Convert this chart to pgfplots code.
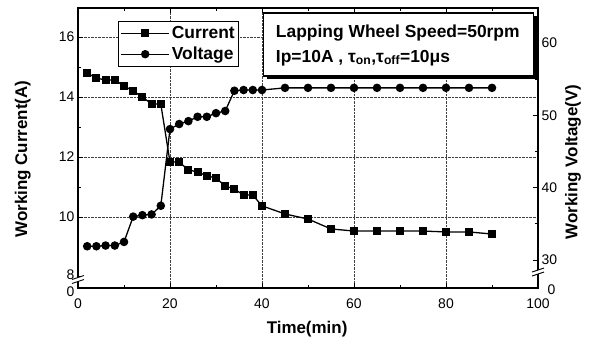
\documentclass[border=0pt]{standalone}
\usepackage{fontspec}
\setmainfont{Liberation Sans}
\usepackage{pgfplots}
\pgfplotsset{compat=1.18}
\begin{document}
\begin{tikzpicture}
\pgfplotsset{
  common/.style={
    scale only axis, width=460bp, height=280bp, xmin=0, xmax=100,
    /pgf/number format/assume math mode=true,
    tick label style={font=\fontsize{14}{16}\selectfont},
    label style={font=\fontsize{17}{19}\selectfont\bfseries},
    major tick length=5bp, minor tick length=3bp,
    tick style={black, line width=0.9bp},
    every axis plot/.append style={line width=1.3bp},
  },
  curstyle/.style={black, line width=1.3bp, mark=square*, mark size=3.4bp, mark options={solid}},
  volstyle/.style={black, line width=1.3bp, mark=*, mark size=3.6bp, mark options={solid}},
}
\begin{axis}[common,
  ymin=7.63, ymax=16.97,
  axis line style={line width=1.3bp},
  xtick={0,20,...,100}, minor x tick num=1,
  xticklabel style={yshift=-7bp},
  ytick={10,12,14,16}, minor y tick num=1,
  extra y ticks={7.63,8}, extra y tick labels={\raisebox{-4bp}[\height][\depth]{0},\raisebox{2bp}[\height][\depth]{8}},
  extra y tick style={grid=none},
  ytick pos=left,
  grid=major, grid style={densely dotted, line width=0.6bp, black!75},
  xlabel={Time(min)}, ylabel={Working Current(A)},
  xlabel style={at={(axis description cs:0.498,-0.146)}, anchor=center},
  ylabel style={at={(axis description cs:-0.12,0.46)}, anchor=center},
]
\coordinate (sw) at (rel axis cs:0,0);
\addplot[curstyle] coordinates {
(2,14.8)(4,14.63)(6,14.57)(8,14.57)(10,14.37)(12,14.2)(14,14.0)(16,13.77)(18,13.77)
(20,11.83)(22,11.83)(24,11.57)(26,11.5)(28,11.37)(30,11.3)(32,11.03)(34,10.93)(36,10.73)(38,10.73)
(40,10.37)(45,10.1)(50,9.93)(55,9.6)(60,9.53)(65,9.53)(70,9.53)(75,9.53)(80,9.5)(85,9.5)(90,9.43)};
\coordinate (lb) at (axis cs:0,7.88);
\end{axis}
\begin{axis}[common,
  ymin=26.13, ymax=64.84,
  axis y line*=right, axis x line=none,
  axis line style={line width=1.3bp},
  ytick={30,40,50,60}, minor y tick num=1,
  extra y ticks={26.13}, extra y tick labels={\hspace*{6bp}\raisebox{-2bp}[\height][\depth]{0}},
  ylabel={Working Voltage(V)},
  ylabel style={at={(axis description cs:1.076,0.45)}, anchor=center},
  legend style={at={(rel axis cs:0.087,0.954)}, anchor=north west, draw=black,
    line width=1.2bp, font=\fontsize{17.5}{19}\selectfont\bfseries,
    inner xsep=2bp, inner ysep=3bp, row sep=3bp, /tikz/every even column/.append style={column sep=2bp}},
  legend cell align=left,
  legend image code/.code={
    \draw[#1, mark repeat=2, mark phase=2, line width=1.2bp] plot coordinates {(0bp,0bp)(24bp,0bp)(48bp,0bp)};},
]
\addlegendimage{curstyle}
\addlegendentry{Current}
\addplot[volstyle] coordinates {
(2,31.9)(4,31.9)(6,32.0)(8,32.0)(10,32.5)(12,36.0)(14,36.2)(16,36.3)(18,37.5)
(20,48.1)(22,48.8)(24,49.2)(26,49.8)(28,49.8)(30,50.3)(32,50.6)(34,53.4)(36,53.5)(38,53.5)
(40,53.5)(45,53.8)(50,53.8)(55,53.8)(60,53.8)(65,53.8)(70,53.8)(75,53.8)(80,53.8)(85,53.8)(90,53.8)};
\addlegendentry{Voltage}
\coordinate (rb) at (axis cs:100,28.2);
\coordinate (b1) at (rel axis cs:0.404,0.757);
\coordinate (b2) at (rel axis cs:0.991,0.982);
\coordinate (t1) at (rel axis cs:0.43,0.893);
\coordinate (t2) at (rel axis cs:0.43,0.807);
\end{axis}
% annotation box
\fill[black] ([shift={(3bp,-3bp)}]b1) rectangle ([shift={(3bp,-3bp)}]b2);
\filldraw[fill=white, draw=black, line width=1.2bp] (b1) rectangle (b2);
\node[anchor=base west, inner sep=0pt, font=\fontsize{17.5}{20}\selectfont\bfseries] at (t1) {Lapping Wheel Speed=50rpm};
\node[anchor=base west, inner sep=0pt, font=\fontsize{17.5}{20}\selectfont\bfseries] at (t2) {Ip=10A , τ\textsubscript{on},τ\textsubscript{off}=10μs};
% axis breaks
\foreach \p in {lb,rb}{
  \fill[white] ([shift={(-6bp,-3bp)}]\p) -- ([shift={(6bp,1bp)}]\p) -- ([shift={(6bp,5bp)}]\p) -- ([shift={(-6bp,1bp)}]\p) -- cycle;
  \draw[line width=0.9bp] ([shift={(-6bp,-3bp)}]\p) -- ([shift={(6bp,1bp)}]\p);
  \draw[line width=0.9bp] ([shift={(-6bp,1bp)}]\p) -- ([shift={(6bp,5bp)}]\p);
}
\pgfresetboundingbox
\path[use as bounding box] ([shift={(-78bp,-55bp)}]sw) rectangle ([shift={(520bp,288bp)}]sw);
\end{tikzpicture}
\end{document}
